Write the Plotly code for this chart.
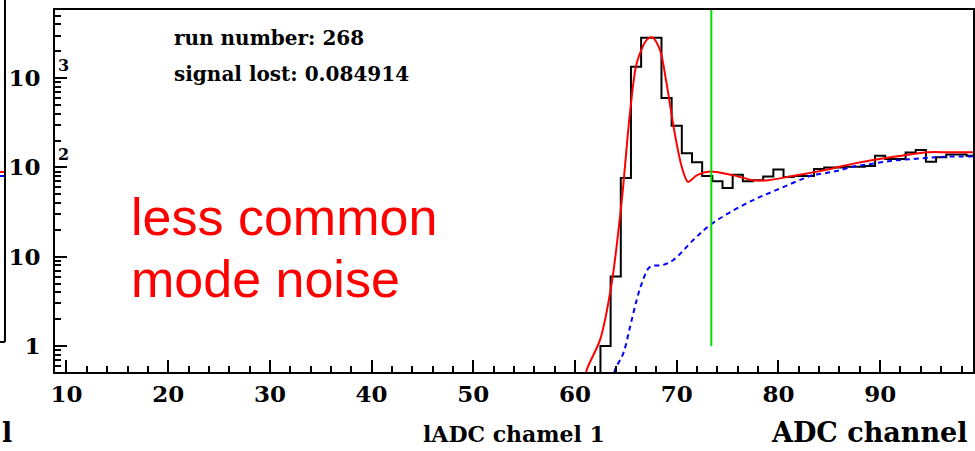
import math
import plotly.graph_objects as go

# ---------------- data ----------------
hist_centers = list(range(63, 100))
hist_counts = [1, 6, 76, 1340, 2830, 2830, 600, 293, 144, 114, 80, 70, 59, 83, 70,
               72, 79, 95, 78, 80, 80, 96, 100, 100, 102, 102, 104, 135, 124, 124,
               147, 157, 116, 130, 140, 140, 135]

fit_x = [60.8, 61.15, 62.46, 63.6, 64.6, 65.4, 66.07, 67.05, 67.6, 68.36, 69.0, 69.8,
         70.5, 71.1, 72.0, 73.3, 75.5, 77.5, 79.0, 81.1, 83.4, 85.4, 87.5, 89.3, 92.1,
         94.7, 96.7, 99.5]
fit_y = [0.3, 0.54, 1.17, 5.0, 43, 407, 1480, 2680, 2850, 2060, 872, 242, 101, 69, 82,
         90, 82, 72, 72, 79, 88, 98, 111, 121, 135, 148, 148, 148]

bg_x = [63.7, 63.93, 64.75, 65.41, 66.07, 66.56, 67.37, 68.68, 69.67, 71.63, 73.27,
        75.57, 77.87, 79.83, 82.45, 83.4, 84.78, 86.06, 87.33, 88.71, 91.27, 93.92,
        96.58, 99.5]
bg_y = [0.4, 0.54, 0.83, 1.64, 3.3, 5.0, 7.7, 8.1, 9.2, 15.4, 22.6, 33, 45, 56, 75,
        82, 87, 93, 102, 108, 119, 126, 132, 132]

cut_x = 73.4
cut_y = [1, 10000]

x_ticks = [10, 20, 30, 40, 50, 60, 70, 80, 90]
y_ticks = [1, 10, 100, 1000]
y_ticktext = ["1", "10", "10", "10"]
y_exponents = {100: "2", 1000: "3"}

run_number = 268
signal_lost = 0.084914

# ---------------- figure ----------------
edges = [c - 0.5 for c in hist_centers] + [hist_centers[-1] + 0.5]
step_x = [edges[0]] + edges
step_y = [0.05] + hist_counts + [hist_counts[-1]]

fig = go.Figure()
fig.add_trace(go.Scatter(x=step_x, y=step_y, mode="lines", line_shape="hv",
                         line=dict(color="black", width=2), hoverinfo="skip"))
fig.add_trace(go.Scatter(x=bg_x, y=bg_y, mode="lines", line_shape="spline",
                         line=dict(color="#0000ff", width=2, dash="5px,4px")))
fig.add_trace(go.Scatter(x=fit_x, y=fit_y, mode="lines", line_shape="spline",
                         line=dict(color="#ff0000", width=2, smoothing=0.8)))
fig.add_trace(go.Scatter(x=[cut_x, cut_x], y=cut_y, mode="lines",
                         line=dict(color="#00e000", width=2)))

tickfont = dict(family="DejaVu Serif", size=23, color="black", weight="bold")

minor_y = []
for d in [0.1, 1, 10, 100, 1000]:
    for m in range(2, 10):
        minor_y.append(d * m)

fig.update_xaxes(range=[8.87, 99.13], showline=True, linecolor="black", linewidth=2,
                 mirror=True, ticks="inside", ticklen=12, tickwidth=1.5,
                 tickcolor="black", tickvals=x_ticks, tickfont=tickfont,
                 showgrid=False, zeroline=False, automargin=False,
                 minor=dict(ticks="inside", ticklen=6, tickwidth=1.5,
                            tickcolor="black", dtick=2, tick0=0, showgrid=False))
fig.update_yaxes(type="log", range=[-0.291, 3.763], showline=True, linecolor="black",
                 linewidth=2, mirror=True, ticks="inside", ticklen=12, tickwidth=1.5,
                 tickcolor="black", tickvals=y_ticks, ticktext=y_ticktext,
                 tickfont=tickfont, ticklabelstandoff=8, showgrid=False,
                 automargin=False,
                 minor=dict(ticks="inside", ticklen=6, tickwidth=1.5,
                            tickcolor="black", tickvals=minor_y, showgrid=False))

annotations = []
for val, ex in y_exponents.items():
    annotations.append(dict(text=ex, xref="paper", yref="y", x=0.001,
                            y=math.log10(val), xanchor="left", yanchor="middle",
                            yshift=13, showarrow=False,
                            font=dict(family="DejaVu Serif", size=16, color="black",
                                      weight="bold")))

infofont = dict(family="DejaVu Serif", size=20, color="black", weight="bold")
annotations += [
    dict(text=f"run number: {run_number}", xref="paper", yref="paper", x=0.1275,
         y=0.9227, xanchor="left", yanchor="middle", showarrow=False, font=infofont),
    dict(text=f"signal lost: {signal_lost}", xref="paper", yref="paper", x=0.1275,
         y=0.823, xanchor="left", yanchor="middle", showarrow=False, font=infofont),
    dict(text="less common", xref="paper", yref="paper", x=0.0801, y=0.428,
         xanchor="left", yanchor="middle", showarrow=False,
         font=dict(family="Liberation Sans", size=52, color="#ff0000")),
    dict(text="mode noise", xref="paper", yref="paper", x=0.0801, y=0.257,
         xanchor="left", yanchor="middle", showarrow=False,
         font=dict(family="Liberation Sans", size=52, color="#ff0000")),
    dict(text="ADC channel", xref="paper", yref="paper", x=0.997, y=-0.168,
         xanchor="right", yanchor="middle", showarrow=False,
         font=dict(family="DejaVu Serif", size=27, color="black", weight="bold")),
    dict(text="lADC chamel 1", xref="paper", yref="paper", x=0.5, y=-0.17,
         xanchor="center", yanchor="middle", showarrow=False,
         font=dict(family="DejaVu Serif", size=22, color="black", weight="bold")),
    dict(text="l", xref="paper", yref="paper", x=-0.0595, y=-0.168,
         xanchor="left", yanchor="middle", showarrow=False,
         font=dict(family="DejaVu Serif", size=27, color="black", weight="bold")),
]

shapes = [
    dict(type="line", xref="paper", yref="paper", x0=-0.0545, x1=-0.0545, y0=0.083,
         y1=1.03, line=dict(color="black", width=2)),
    dict(type="line", xref="paper", yref="paper", x0=-0.07, x1=-0.0545, y0=0.083,
         y1=0.083, line=dict(color="black", width=2)),
    dict(type="line", xref="paper", yref="paper", x0=-0.0599, x1=-0.0556, y0=0.5525,
         y1=0.5525, line=dict(color="#ff0000", width=2)),
    dict(type="line", xref="paper", yref="paper", x0=-0.0599, x1=-0.0556, y0=0.5414,
         y1=0.5414, line=dict(color="#0000ff", width=2)),
]

fig.update_layout(width=975, height=451, margin=dict(l=55, r=2, t=10, b=79),
                  paper_bgcolor="white", plot_bgcolor="white", showlegend=False,
                  annotations=annotations, shapes=shapes)

fig.write_html("out.html", config={"displayModeBar": False},
               post_script="document.body.style.margin='0';"
                           "document.body.style.overflow='hidden';")
